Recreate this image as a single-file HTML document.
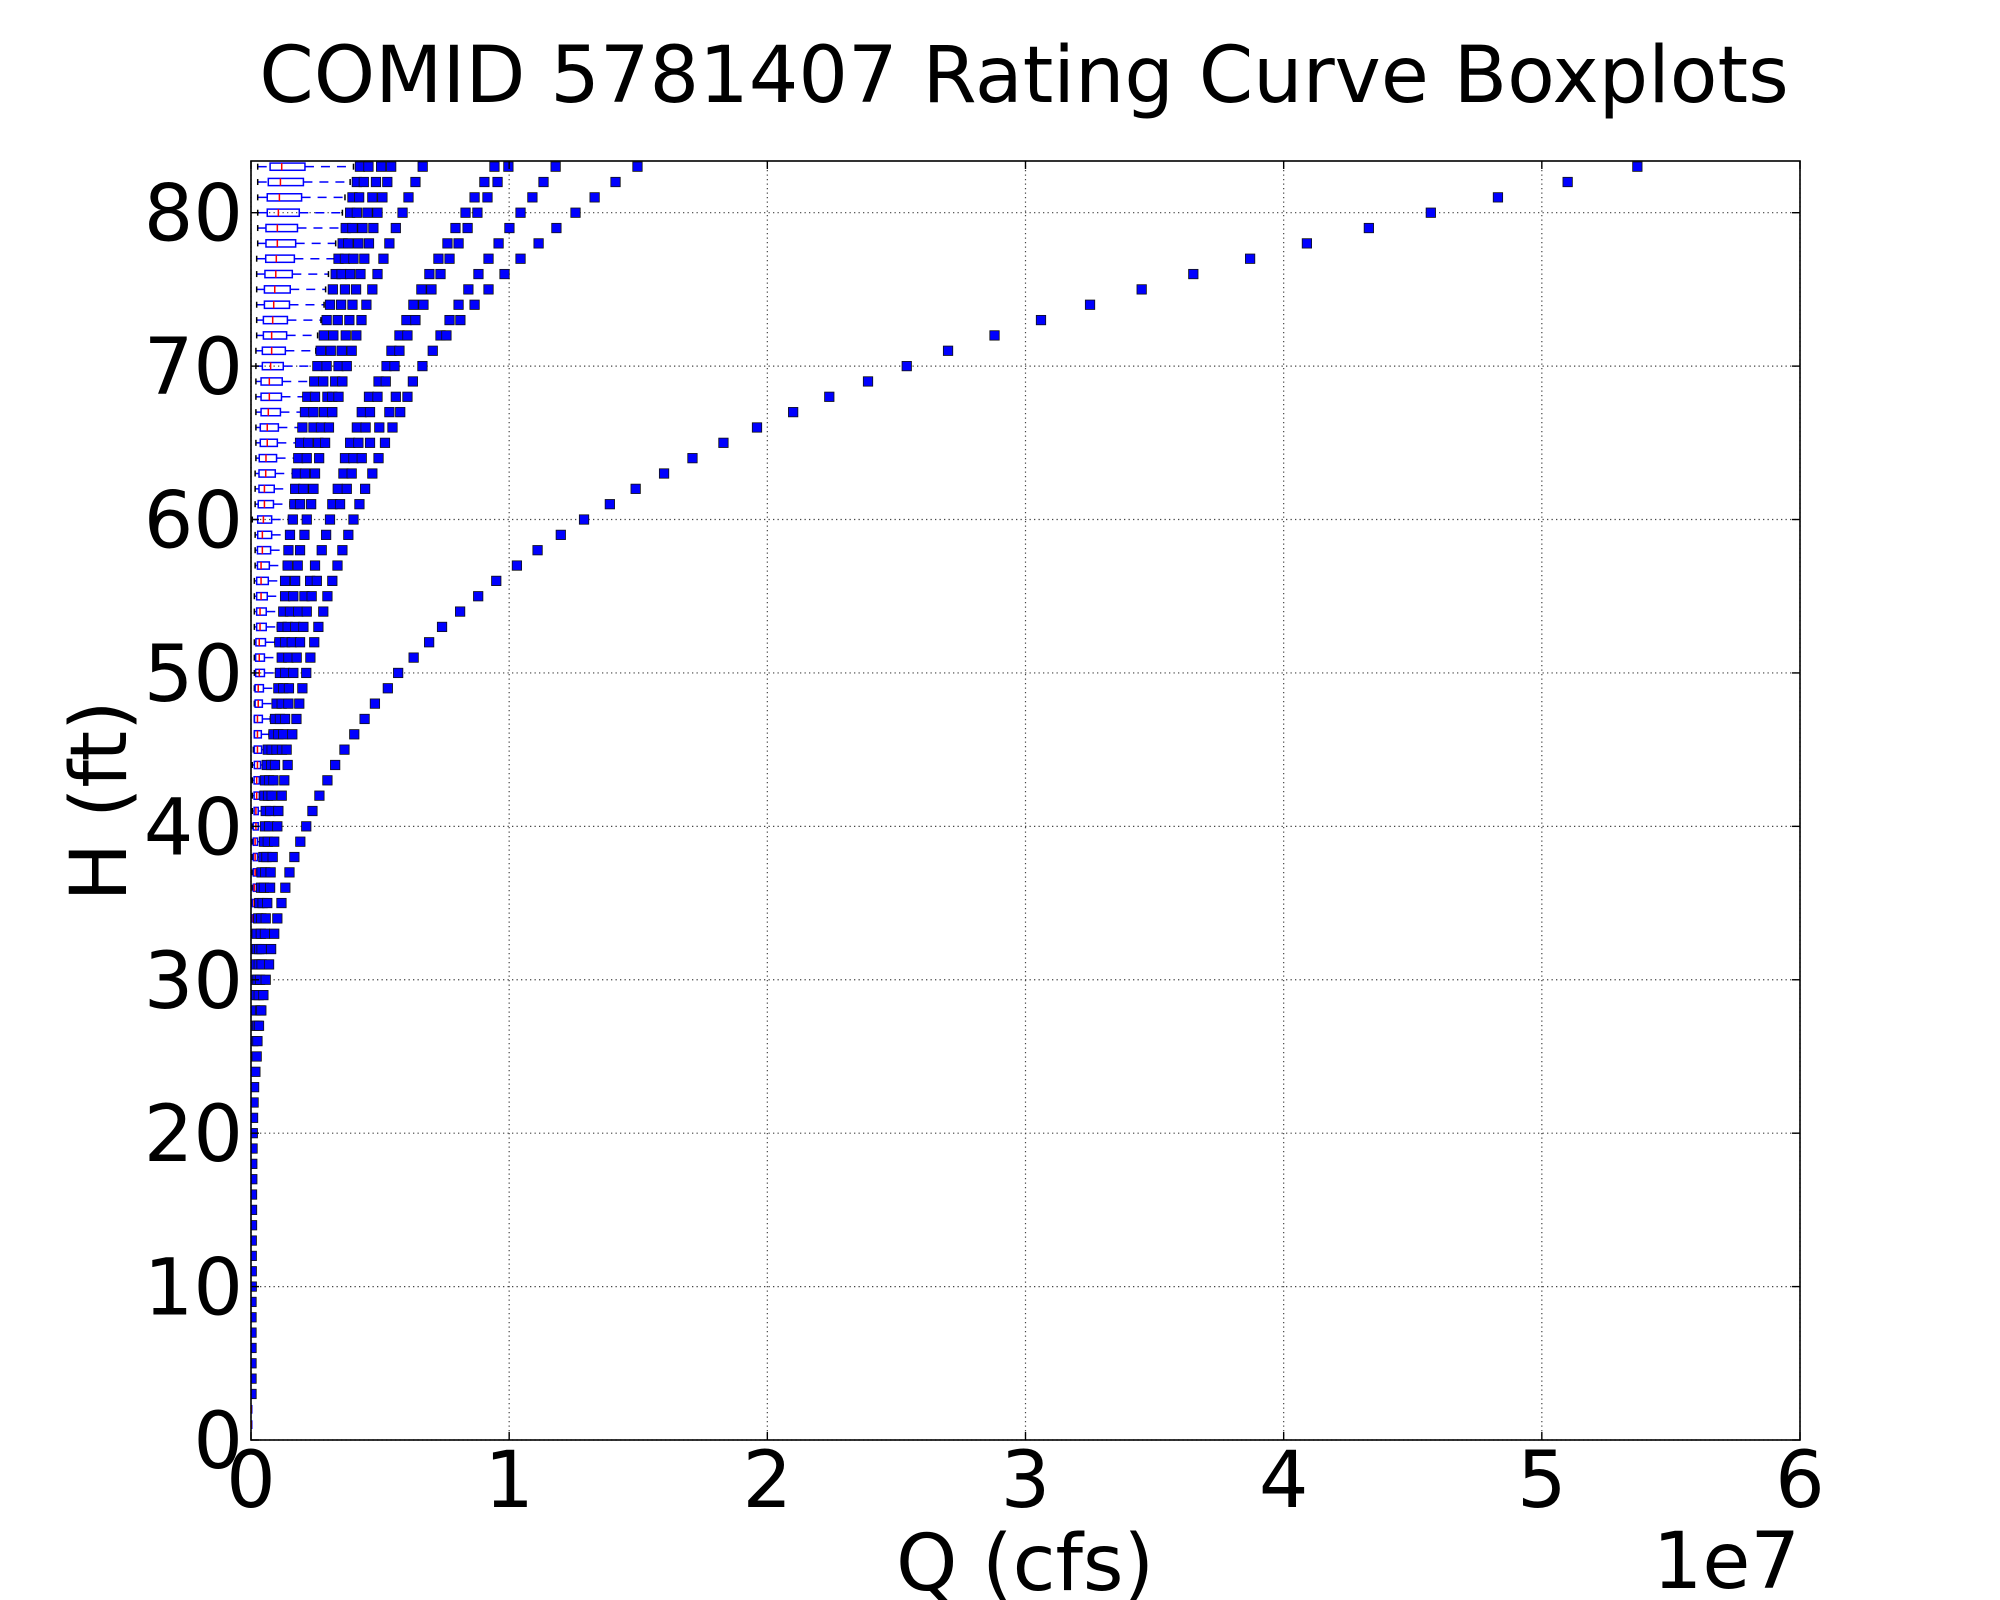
<!DOCTYPE html>
<html><head><meta charset="utf-8"><style>
html,body{margin:0;padding:0;background:#fff;}
svg{display:block;font-family:"DejaVu Sans","Liberation Sans",sans-serif;}
</style></head><body>
<svg id="chart" width="2000" height="1600" viewBox="0 0 2000 1600" xmlns="http://www.w3.org/2000/svg">
<rect x="0" y="0" width="2000" height="1600" fill="#fff"/>
<text x="1024" y="102" font-size="78" text-anchor="middle">COMID 5781407 Rating Curve Boxplots</text>
<g id="grid"></g>
<defs><clipPath id="pc"><rect x="251" y="161" width="1549" height="1279"/></clipPath></defs>
<g id="marks" clip-path="url(#pc)"></g>
<rect x="251" y="161" width="1549" height="1279" fill="none" stroke="#000" stroke-width="1.6"/>
<g id="ticks"></g>
<text x="1025" y="1590" font-size="78" text-anchor="middle">Q (cfs)</text>
<text x="1800" y="1588" font-size="78" text-anchor="end">1e7</text>
<text transform="translate(126,801) rotate(-90)" font-size="78" text-anchor="middle">H (ft)</text>
</svg>
<script>
// values in 1e6 cfs, rows from H=83 down to H=1
const heights = [83,82,81,80,79,78,77,76,75,74,73,72,71,70,69,68,67,66,65,64,63,62,61,60,59,58,57,56,55,54,53,52,51,50,49,48,47,46,45,44,43,42,41,40,39,38,37,36,35,34,33,32,31,30,29,28,27,26,25,24,23,22,21,20,19,18,17,16,15,14,13,12,11,10,9,8,7,6,5,4,3,2,1];
const q1 = [.74,.67,.63,.63,.58,.58,.57,.54,.52,.52,.48,.48,.44,.44,.39,.39,.39,.36,.36,.32,.31,.31,.28,.26,.26,.25,.25,.22,.22,.22,.22,.19,.18,.18,.16,.16,.13,.13,.13,.13,.12,.12,.12,.09,.09,.09,.09,.09,.05,.05,.05,.03,.03,.03,.02,.02,.02,.02,.02,.02,.02,.02,.02,.02,.01,.01,.01,.01,.01,.01,.01,.01,.01,.01,.01,.01,.01,.01,.01,.01,.01,.01,.01];
const med = [1.19,1.14,1.10,1.06,1.02,1.02,.98,.96,.92,.88,.84,.80,.80,.76,.71,.71,.67,.63,.63,.58,.57,.52,.52,.48,.44,.44,.39,.39,.39,.35,.35,.32,.32,.32,.28,.28,.25,.25,.25,.25,.22,.22,.19,.19,.16,.16,.16,.13,.12,.09,.09,.07,.05,.04,.035,.033,.03,.03,.03,.028,.027,.025,.025,.024,.022,.02,.02,.02,.018,.017,.016,.015,.015,.014,.013,.012,.012,.011,.011,.01,.01,.01,.01];
const q3 = [2.09,2.03,1.96,1.87,1.80,1.73,1.68,1.60,1.52,1.49,1.41,1.38,1.33,1.25,1.21,1.18,1.14,1.06,1.02,.99,.94,.90,.87,.80,.80,.76,.71,.67,.63,.59,.59,.56,.52,.52,.48,.44,.44,.40,.41,.37,.32,.32,.28,.28,.25,.25,.21,.21,.17,.17,.13,.10,.09,.06,.05,.05,.05,.045,.045,.04,.04,.04,.035,.035,.035,.03,.03,.03,.03,.028,.027,.026,.025,.025,.024,.023,.022,.022,.021,.02,.02,.02,.02];
const whisLo = [.26,.26,.26,.26,.26,.26,.22,.22,.22,.22,.22,.22,.19,.19,.19,.19,.19,.19,.19,.19,.16,.16,.16,.05,.16,.16,.16,.13,.13,.13,.13,.13,.13,.13,.13,.13,.13,.13,.09,.05,.05,.05,.05,.05,.05,.05,.05,.05,.05,.03,.03,.03,.03,.03,.01,.01,.01,.01,.01,.01,.01,.01,.01,.01,.005,.005,.005,.005,.005,.005,.005,.005,.005,.005,.005,.005,.005,.005,.005,.005,.005,.005,.005];
const whisHi = [3.97,3.84,3.64,3.54,3.51,3.28,3.23,3.00,2.89,2.83,2.71,2.58,2.51,2.42,2.29,2.18,2.09,1.99,1.90,1.71,1.64,1.58,1.51,1.45,1.38,1.29,1.25,1.16,1.16,1.10,1.02,.93,1.06,.97,.90,.83,.75,.70,.65,.57,.52,.48,.54,.52,.48,.44,.39,.36,.28,.26,.22,.18,.16,.13,.10,.09,.08,.07,.07,.06,.06,.05,.05,.05,.04,.04,.04,.04,.035,.035,.03,.03,.03,.03,.03,.025,.025,.025,.02,.02,.02,.02,.02];
const outliers = [
[4.22,4.55,5.04,5.43,6.65,9.43,9.97,11.8,14.97,53.7],
[4.10,4.37,4.84,5.28,6.37,9.04,9.55,11.33,14.12,51.0],
[3.93,4.19,4.70,5.09,6.10,8.66,9.16,10.90,13.31,48.3],
[3.84,4.10,4.51,4.90,5.87,8.31,8.77,10.44,12.57,45.7],
[3.67,3.93,4.32,4.74,5.61,7.92,8.39,10.01,11.83,43.3],
[3.55,3.77,4.16,4.57,5.36,7.61,8.04,9.59,11.14,40.9],
[3.39,3.64,3.97,4.39,5.13,7.26,7.69,9.20,10.44,38.7],
[3.28,3.51,3.84,4.24,4.90,6.91,7.34,8.81,9.82,36.5],
[3.17,3.64,4.07,4.70,6.60,6.99,8.42,9.20,34.5],
[3.06,3.49,3.93,4.47,6.29,6.68,8.04,8.66,32.5],
[2.93,3.36,3.81,4.28,6.02,6.37,7.69,8.11,30.6],
[2.82,3.19,3.67,4.08,5.75,6.06,7.34,7.57,28.8],
[2.70,3.09,3.51,3.90,5.44,5.75,7.04,27.0],
[2.57,2.93,3.39,3.71,5.25,5.56,6.64,25.4],
[2.45,2.80,3.26,3.54,4.94,5.22,6.27,23.9],
[2.18,2.48,2.96,3.15,3.39,4.57,4.90,5.61,6.06,22.4],
[2.09,2.42,2.83,3.15,4.29,4.61,5.36,5.78,21.0],
[1.99,2.42,2.71,3.02,4.10,4.44,4.97,5.48,19.6],
[1.90,2.22,2.61,2.87,3.84,4.16,4.61,5.19,18.3],
[1.83,2.16,2.64,3.64,3.97,4.29,4.94,17.1],
[1.77,2.09,2.48,3.58,3.90,4.70,16.0],
[1.71,2.03,2.42,3.36,3.71,4.42,14.9],
[1.68,1.90,2.33,3.15,3.45,4.20,13.9],
[1.62,2.16,3.06,3.97,12.9],
[1.51,2.07,2.91,3.77,12.0],
[1.45,1.90,2.74,3.54,11.1],
[1.42,1.81,2.48,3.35,10.3],
[1.32,1.71,2.29,2.55,3.15,9.5],
[1.32,1.64,2.07,2.35,2.96,8.8],
[1.25,1.51,1.83,2.16,2.80,8.1],
[1.19,1.42,1.71,2.03,2.61,7.4],
[1.10,1.32,1.58,1.90,2.45,6.9],
[1.19,1.45,1.77,2.30,6.3],
[1.12,1.32,1.64,2.14,5.7],
[1.06,1.25,1.47,1.99,5.3],
[.99,1.19,1.45,1.87,4.8],
[.93,1.12,1.32,1.76,4.4],
[.87,1.06,1.25,1.60,4.0],
[.65,.80,.99,1.20,1.38,3.62],
[.61,.78,.93,1.42,3.26],
[.54,.70,.87,1.29,2.96],
[.52,.66,.80,1.19,2.65],
[.57,.75,1.06,2.38],
[.54,.70,1.02,2.14],
[.50,.65,.90,1.91],
[.48,.60,.84,1.68],
[.41,.55,.76,1.49],
[.39,.50,.74,1.33],
[.32,.45,.63,1.18],
[.28,.40,.57,1.02],
[.22,.38,.54,.90],
[.22,.32,.41,.78],
[.16,.30,.41,.70],
[.13,.25,.35,.57],
[.16,.30,.48],
[.16,.35,.40],
[.13,.25,.31],
[.09,.25],
[.22],[.17],[.12],[.10],[.08],[.07],[.06],[.05],[.05],[.04],[.04],[.04],[.03],[.03],[.03],[.03],[.02],[.02],[.02],[.02],[.02],[.02],[.02],[]
];
const xTicks = [0,1,2,3,4,5,6];
const yTicks = [0,10,20,30,40,50,60,70,80];

const NS = 'http://www.w3.org/2000/svg';
const X0 = 251, X1 = 1800, Y0 = 1440, Y1 = 161;
const XMAX = 6, YMAX = 83.37;
function sx(v){ return X0 + v/10 * (X1 - X0) / XMAX; } // v in 1e6 cfs
function sxT(v){ return X0 + v * (X1 - X0) / XMAX; }   // v in 1e7
function sy(h){ return Y0 - h * (Y0 - Y1) / YMAX; }
function mk(tag, attrs, parent){
  const e = document.createElementNS(NS, tag);
  for (const k in attrs) e.setAttribute(k, attrs[k]);
  parent.appendChild(e);
  return e;
}
const grid = document.getElementById('grid');
const ticks = document.getElementById('ticks');
const marks = document.getElementById('marks');

xTicks.forEach(t => {
  const x = sxT(t);
  const g = mk('line', {x1:x, x2:x, y1:Y1, y2:Y0, stroke:'#444', 'stroke-width':1.2, 'stroke-dasharray':'1.3,3.2'}, grid);
  
  
  const tk = mk('line', {x1:x, x2:x, y1:Y0, y2:Y0-8, stroke:'#000', 'stroke-width':1.4}, ticks);
  
  
  const tk2 = mk('line', {x1:x, x2:x, y1:Y1, y2:Y1+8, stroke:'#000', 'stroke-width':1.4}, ticks);
  
  
  const lb = mk('text', {x:x, y:1507, 'font-size':78, 'text-anchor':'middle'}, ticks);
  lb.textContent = t;
  
  
});
yTicks.forEach(t => {
  const y = sy(t);
  const g = mk('line', {x1:X0, x2:X1, y1:y, y2:y, stroke:'#444', 'stroke-width':1.2, 'stroke-dasharray':'1.3,3.2'}, grid);
  
  
  const tk = mk('line', {x1:X0, x2:X0+8, y1:y, y2:y, stroke:'#000', 'stroke-width':1.4}, ticks);
  
  
  const tk2 = mk('line', {x1:X1-8, x2:X1, y1:y, y2:y, stroke:'#000', 'stroke-width':1.4}, ticks);
  
  
  const lb = mk('text', {x:243, y:y+28, 'font-size':78, 'text-anchor':'end'}, ticks);
  lb.textContent = t;
  
  
});

heights.forEach((h, i) => {
  const y = sy(h);
  const g = mk('g', {}, marks);
  
  
  const wl = mk('line', {x1:sx(whisLo[i]), x2:sx(q1[i]), y1:y, y2:y, stroke:'#00f', 'stroke-width':1.5, 'stroke-dasharray':'9,7'}, g);
  
  
  const wh = mk('line', {x1:sx(q3[i]), x2:sx(whisHi[i]), y1:y, y2:y, stroke:'#00f', 'stroke-width':1.5, 'stroke-dasharray':'9,7'}, g);
  
  
  const c1 = mk('line', {x1:sx(whisLo[i]), x2:sx(whisLo[i]), y1:y-3, y2:y+3, stroke:'#000', 'stroke-width':1.5}, g);
  
  
  const c2 = mk('line', {x1:sx(whisHi[i]), x2:sx(whisHi[i]), y1:y-3, y2:y+3, stroke:'#000', 'stroke-width':1.5}, g);
  
  
  const bx = mk('rect', {x:sx(q1[i]), y:y-3.6, width:Math.max(0.5, sx(q3[i])-sx(q1[i])), height:7.2, fill:'none', stroke:'#00f', 'stroke-width':1.5}, g);
  
  
  const md = mk('line', {x1:sx(med[i]), x2:sx(med[i]), y1:y-3.6, y2:y+3.6, stroke:'#f00', 'stroke-width':1.5}, g);
  
  
  (outliers[i] || []).forEach(v => {
    const p = mk('rect', {x:sx(v)-4.7, y:y-4.7, width:9.4, height:9.4, fill:'#00f', stroke:'#111', 'stroke-width':0.8}, g);
    
    
  });
});
</script>
</body></html>
